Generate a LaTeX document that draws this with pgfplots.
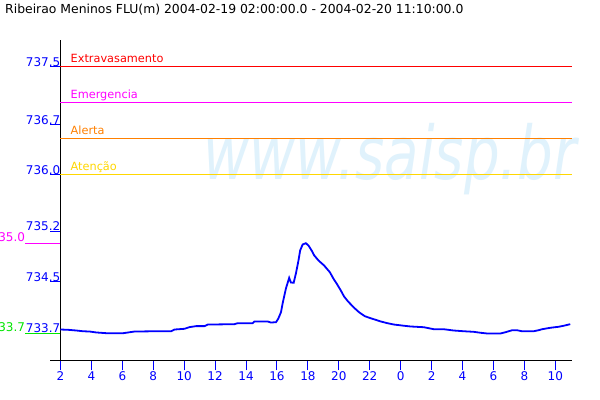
\documentclass[border=0pt]{standalone}
\usepackage{fontspec}
\setmainfont{DejaVu Sans}
\usepackage{pgfplots}
\pgfplotsset{compat=1.18}
\definecolor{tickblue}{RGB}{0,0,255}
\definecolor{cred}{RGB}{255,0,0}
\definecolor{cmag}{RGB}{255,0,255}
\definecolor{corange}{RGB}{255,128,0}
\definecolor{cyellow}{RGB}{255,215,0}
\definecolor{cgreen}{RGB}{0,230,0}
\definecolor{wm}{RGB}{224,242,252}
\begin{document}
\begin{tikzpicture}
\path[use as bounding box] (0bp,0bp) rectangle (600bp,400bp);
\fill[white] (0bp,0bp) rectangle (600bp,400bp);
\node[wm, anchor=base west, inner sep=0pt, xscale=0.76, font=\fontsize{74bp}{80bp}\selectfont\itshape] at (203bp,220bp) {www.saisp.br};
\node[anchor=west, inner sep=0pt, font=\fontsize{12.4bp}{14bp}\selectfont] at (5bp,390bp) {Ribeirao Meninos FLU(m) 2004-02-19 02:00:00.0 - 2004-02-20 11:10:00.0};
\begin{axis}[
  at={(60.5bp,39.5bp)}, anchor=south west, scale only axis,
  width=511bp, height=320bp,
  xmin=2, xmax=35.05, ymin=733.4167, ymax=737.8611,
  axis x line*=bottom, axis y line*=left,
  axis line style={black, line width=1bp},
  x axis line style={shorten <=-10bp},
  tick align=outside, major tick length=10bp,
  tick style={tickblue, line width=1bp},
  xtick={2,4,...,34},
  xticklabels={2,4,6,8,10,12,14,16,18,20,22,0,2,4,6,8,10},
  ytick={733.796,734.514,735.213,736.0,736.694,737.5},
  yticklabels={733.7,734.5,735.2,736.0,736.7,737.5},
  /pgf/number format/assume math mode=true,
  ticklabel style={font=\fontsize{12bp}{14bp}\selectfont, text=tickblue, inner sep=0pt},
  yticklabel style={anchor=south east, xshift=10bp},
  xticklabel style={anchor=north, yshift=-1bp},
  clip=false,
]
\addplot[color=cred, line width=1bp, forget plot] coordinates {(2,737.5) (35.05,737.5)};
\addplot[color=cmag, line width=1bp, forget plot] coordinates {(2,737.0) (35.05,737.0)};
\addplot[color=corange, line width=1bp, forget plot] coordinates {(2,736.5) (35.05,736.5)};
\addplot[color=cyellow, line width=1bp, forget plot] coordinates {(2,736.0) (35.05,736.0)};
\node[cred, anchor=base west, inner sep=0pt, xshift=10bp, yshift=4bp, font=\fontsize{11.3bp}{13bp}\selectfont] at (axis cs:2,737.5) {Extravasamento};
\node[cmag, anchor=base west, inner sep=0pt, xshift=10bp, yshift=4bp, font=\fontsize{11.3bp}{13bp}\selectfont] at (axis cs:2,737.0) {Emergencia};
\node[corange, anchor=base west, inner sep=0pt, xshift=10bp, yshift=4bp, font=\fontsize{11.3bp}{13bp}\selectfont] at (axis cs:2,736.5) {Alerta};
\node[cyellow, anchor=base west, inner sep=0pt, xshift=10bp, yshift=4bp, font=\fontsize{11.3bp}{13bp}\selectfont] at (axis cs:2,736.0) {Atenção};
\draw[cmag, line width=1bp] (axis cs:2,735.04) -- ++(-35bp,0bp) node[anchor=south east, inner sep=0pt, yshift=1bp, font=\fontsize{12bp}{14bp}\selectfont] {735.0};
\draw[cgreen, line width=1bp] (axis cs:2,733.792) -- ++(-35bp,0bp) node[anchor=south east, inner sep=0pt, yshift=1bp, font=\fontsize{12bp}{14bp}\selectfont] {733.7};
\addplot[tickblue, line width=1.8bp] table {
2.00 733.847
2.50 733.843
3.03 733.833
3.46 733.823
3.89 733.819
4.32 733.806
4.97 733.796
6.05 733.796
6.79 733.819
8.19 733.823
9.16 733.823
9.37 733.847
10.02 733.857
10.34 733.880
10.77 733.894
11.31 733.894
11.53 733.916
13.25 733.921
13.46 733.935
14.43 733.935
14.54 733.959
15.40 733.959
15.61 733.944
15.94 733.949
16.08 733.996
16.26 734.087
16.37 734.213
16.58 734.417
16.79 734.565
16.90 734.500
17.08 734.496
17.23 734.629
17.40 734.815
17.50 734.945
17.66 735.028
17.87 735.046
18.05 735.010
18.24 734.945
18.41 734.876
18.69 734.805
19.05 734.736
19.42 734.643
19.66 734.551
19.87 734.482
20.13 734.389
20.34 734.306
20.60 734.236
20.99 734.149
21.31 734.087
21.68 734.032
22.06 734.004
22.71 733.959
23.14 733.935
23.57 733.916
24.11 733.902
24.65 733.889
25.50 733.879
26.15 733.851
26.79 733.851
27.44 733.833
28.08 733.823
28.73 733.815
29.16 733.802
29.59 733.792
30.45 733.792
30.77 733.809
30.99 733.823
31.21 733.837
31.53 733.837
31.85 733.823
32.60 733.823
32.92 733.837
33.14 733.851
33.68 733.871
34.21 733.885
34.54 733.899
34.79 733.912
34.97 733.921
};
\end{axis}
\end{tikzpicture}
\end{document}
